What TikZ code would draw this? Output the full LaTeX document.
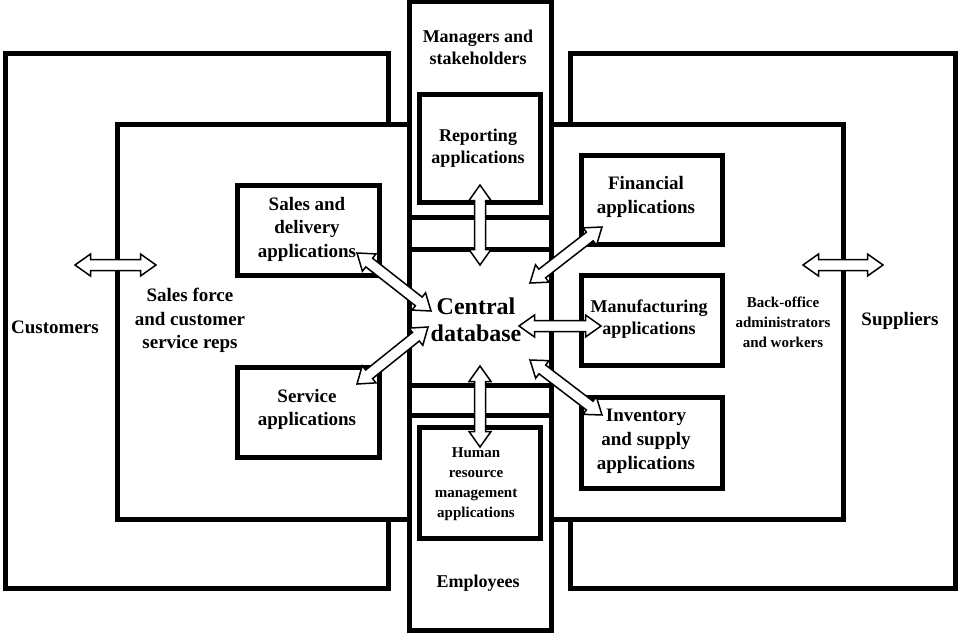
\documentclass[tikz,border=0pt]{standalone}
\usepackage{fontspec}
\setmainfont{Liberation Serif}
\usetikzlibrary{calc}
\makeatletter
\newcommand\blockarrow[2]{%
  \pgfpointdiff{\pgfpointanchor{#1}{center}}{\pgfpointanchor{#2}{center}}%
  \edef\bdx{\strip@pt\pgf@x}\edef\bdy{\strip@pt\pgf@y}%
  \pgfmathsetmacro\baang{atan2(\bdy,\bdx)}%
  \pgfmathsetmacro\balen{veclen(\bdx,\bdy)}%
  \draw[blockarr, shift={(#1)}, rotate=\baang]
    (0pt,0pt) -- (15.5pt,11pt) -- (15.5pt,5.5pt) -- ({(\balen-15.5)*1pt},5.5pt)
    -- ({(\balen-15.5)*1pt},11pt) -- ({\balen*1pt},0pt)
    -- ({(\balen-15.5)*1pt},-11pt) -- ({(\balen-15.5)*1pt},-5.5pt)
    -- (15.5pt,-5.5pt) -- (15.5pt,-11pt) -- cycle;
}
\makeatother
\tikzset{
  frame/.style={draw, line width=5pt, inner sep=0pt, outer sep=0pt},
  blockarr/.style={draw, fill=white, line width=1.5pt, line join=miter},
  lbl/.style={font=\bfseries\fontsize{19}{23.5}\selectfont, align=center, inner sep=0pt},
  lblm/.style={font=\bfseries\fontsize{18}{22}\selectfont, align=center, inner sep=0pt},
  lbls/.style={font=\bfseries\fontsize{15}{20}\selectfont, align=center, inner sep=0pt},
}
\begin{document}
\begin{tikzpicture}[x=1pt, y=-1pt]
\fill[white] (0,0) rectangle (960,634);
\useasboundingbox (0,0) rectangle (960,634);

% outer boxes
\node[frame, minimum width=383pt, minimum height=534pt] (cust) at (196.5,321) {};
\node[frame, minimum width=385pt, minimum height=534pt] (supp) at (762.5,321) {};
% inner boxes
\node[frame, fill=white, minimum width=292pt, minimum height=395pt] (sforce) at (263,321.5) {};
\node[frame, fill=white, minimum width=292pt, minimum height=395pt] (boffice) at (697,321.5) {};
% central column
\node[frame, fill=white, minimum width=142pt, minimum height=628pt] (column) at (480,316) {};
\node[frame, minimum width=142pt, minimum height=215.5pt] (mgr) at (480,109.75) {};
\node[frame, minimum width=142pt, minimum height=136pt] (db) at (480,317) {};
\node[frame, minimum width=142pt, minimum height=214.5pt] (emp) at (480,522.75) {};
% application boxes
\node[frame, minimum width=121pt, minimum height=108pt] (report) at (479.5,148) {};
\node[frame, minimum width=121pt, minimum height=111pt] (hr) at (479.5,482.5) {};
\node[frame, minimum width=142pt, minimum height=90pt] (sales) at (308,230) {};
\node[frame, minimum width=142pt, minimum height=90pt] (service) at (308,412) {};
\node[frame, minimum width=141pt, minimum height=89pt] (fin) at (651.5,199.5) {};
\node[frame, minimum width=141pt, minimum height=90pt] (manu) at (651.5,320) {};
\node[frame, minimum width=141pt, minimum height=91pt] (inv) at (651.5,442.5) {};

% texts
\node[lbl] (tcust) at (55,327) {Customers};
\node[lbl] (tsf) at (190,320.5) {Sales force\\and customer\\service reps};
\node[lblm] (tmgr) at (478,47) {Managers and\\stakeholders};
\node[lblm] (trep) at (478,148) {Reporting\\applications};
\node[lbl] (tsales) at (307,229) {Sales and\\delivery\\applications};
\node[lbl] (tserv) at (307,409.5) {Service\\applications};
\node[font=\bfseries\fontsize{24}{27}\selectfont, align=center, inner sep=0pt] (tdb) at (476,319.5) {Central\\database};
\node[lbls] (thr) at (476,484) {Human\\resource\\management\\applications};
\node[lblm] (temp) at (478,583) {Employees};
\node[font=\bfseries\fontsize{19}{24}\selectfont, align=center, inner sep=0pt] (tfin) at (646,197) {Financial\\applications};
\node[lblm] (tmanu) at (649,319) {Manufacturing\\applications};
\node[font=\bfseries\fontsize{19}{24}\selectfont, align=center, inner sep=0pt] (tinv) at (646,441) {Inventory\\and supply\\applications};
\node[lbls] (tbo) at (783,322) {Back-office\\administrators\\and workers};
\node[lbl] (tsup) at (900,321) {Suppliers};

% arrow end points
\coordinate (ca1) at (75,265);   \coordinate (ca2) at (156,265);
\coordinate (sa1) at (803,265);  \coordinate (sa2) at (883,265);
\coordinate (r1) at (480,185);   \coordinate (r2) at (480,265);
\coordinate (h1) at (480,366);   \coordinate (h2) at (480,447);
\coordinate (sd1) at (357,253);  \coordinate (sd2) at (431,311);
\coordinate (sv1) at (428,327);  \coordinate (sv2) at (357,384);
\coordinate (f1) at (530,283);   \coordinate (f2) at (602,227);
\coordinate (m1) at (519,326);   \coordinate (m2) at (601,326);
\coordinate (i1) at (530,360);   \coordinate (i2) at (602,415);

\blockarrow{ca1}{ca2}
\blockarrow{sa1}{sa2}
\blockarrow{r1}{r2}
\blockarrow{h1}{h2}
\blockarrow{sd1}{sd2}
\blockarrow{sv1}{sv2}
\blockarrow{f1}{f2}
\blockarrow{m1}{m2}
\blockarrow{i1}{i2}
\end{tikzpicture}
\end{document}
